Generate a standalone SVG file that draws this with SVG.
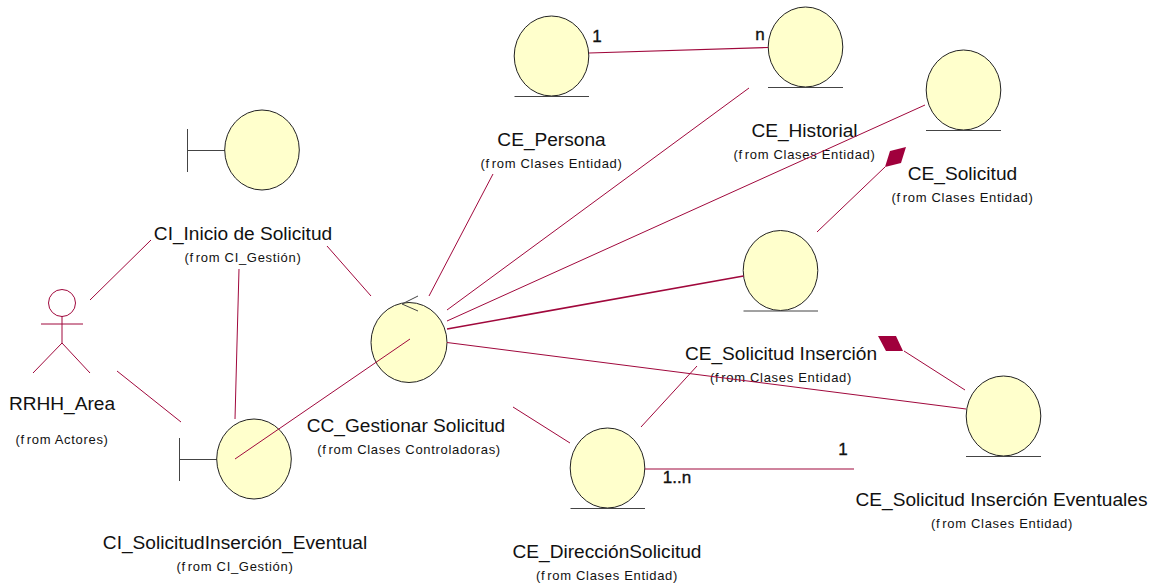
<svg xmlns="http://www.w3.org/2000/svg" width="1157" height="585" viewBox="0 0 1157 585">
<style>
text{font-family:"Liberation Sans",Arial,sans-serif;fill:#111;text-anchor:middle}
.n{font-size:19.1px}
.f{font-size:13px;letter-spacing:.68px}
.f tspan{letter-spacing:.68px}
.m{font-size:17px;stroke:#111;stroke-width:.35}
.b{fill:#ffffcc;stroke:#222;stroke-width:1}
.u{stroke:#444;stroke-width:1;fill:none}
#connectors line,#connectors polyline{stroke:#a0083c;stroke-width:1;fill:none}
.a line,.a circle{stroke:#a0083c;stroke-width:1;fill:none}
</style>
<g id="actor" class="a">
<circle cx="62" cy="303" r="13.5"/>
<line x1="41" y1="324" x2="83" y2="324"/>
<line x1="62" y1="316" x2="62" y2="343"/>
<line x1="62" y1="343" x2="33" y2="373"/>
<line x1="62" y1="343" x2="90" y2="373"/>
<text class="n" x="62" y="410">RRHH_Area</text>
<text class="f" x="62" y="444">(f<tspan dx="2">rom</tspan> Actores)</text>
</g>
<g id="ci-inicio">
<line class="u" x1="187.5" y1="129" x2="187.5" y2="172"/><line class="u" x1="187.5" y1="150.5" x2="225" y2="150.5"/>
<ellipse class="b" cx="262" cy="150" rx="37.3" ry="40"/>
<text class="n" x="243" y="240">CI_Inicio de Solicitud</text>
<text class="f" x="243" y="262">(f<tspan dx="2">rom</tspan> CI_Gestión)</text>
</g>
<g id="ci-eventual">
<line class="u" x1="179.5" y1="438" x2="179.5" y2="481"/><line class="u" x1="179.5" y1="459.5" x2="217" y2="459.5"/>
<ellipse class="b" cx="254" cy="459" rx="37.3" ry="40"/>
<text class="n" x="235" y="549">CI_SolicitudInserción_Eventual</text>
<text class="f" x="235" y="571">(f<tspan dx="2">rom</tspan> CI_Gestión)</text>
</g>
<g id="cc-gestionar">
<ellipse class="b" cx="409" cy="342.5" rx="38" ry="40"/>
<polyline class="u" points="418,296 402,304 418,311"/>
<text class="n" x="406" y="432">CC_Gestionar Solicitud</text>
<text class="f" x="409" y="454">(f<tspan dx="2">rom</tspan> Clases Controladoras)</text>
</g>
<g id="ce-persona">
<ellipse class="b" cx="551.5" cy="56" rx="37.3" ry="40"/><line class="u" x1="514.5" y1="96.5" x2="589" y2="96.5"/>
<text class="n" x="551.5" y="146">CE_Persona</text>
<text class="f" x="551.5" y="168">(f<tspan dx="2">rom</tspan> Clases Entidad)</text>
</g>
<g id="ce-historial">
<ellipse class="b" cx="805.5" cy="47" rx="37.3" ry="40"/><line class="u" x1="768" y1="87.5" x2="843" y2="87.5"/>
<text class="n" x="804.5" y="137">CE_Historial</text>
<text class="f" x="804.5" y="159">(f<tspan dx="2">rom</tspan> Clases Entidad)</text>
</g>
<g id="ce-solicitud">
<ellipse class="b" cx="963.5" cy="90" rx="37.3" ry="40"/><line class="u" x1="926" y1="130.5" x2="1001" y2="130.5"/>
<text class="n" x="962.5" y="180">CE_Solicitud</text>
<text class="f" x="962.5" y="202">(f<tspan dx="2">rom</tspan> Clases Entidad)</text>
</g>
<g id="ce-solicitud-insercion">
<ellipse class="b" cx="780.5" cy="270.5" rx="37.3" ry="40"/><line class="u" x1="743.5" y1="311" x2="818" y2="311"/>
<text class="n" x="781" y="360">CE_Solicitud Inserción</text>
<text class="f" x="781" y="382">(f<tspan dx="2">rom</tspan> Clases Entidad)</text>
</g>
<g id="ce-eventuales">
<ellipse class="b" cx="1003.5" cy="416" rx="37.3" ry="40"/><line class="u" x1="966" y1="456.5" x2="1041" y2="456.5"/>
<text class="n" x="1001.5" y="506">CE_Solicitud Inserción Eventuales</text>
<text class="f" x="1002" y="528">(f<tspan dx="2">rom</tspan> Clases Entidad)</text>
</g>
<g id="ce-direccion">
<ellipse class="b" cx="607.5" cy="468" rx="37.3" ry="40"/><line class="u" x1="570.5" y1="508.5" x2="645" y2="508.5"/>
<text class="n" x="607" y="558">CE_DirecciónSolicitud</text>
<text class="f" x="607" y="580">(f<tspan dx="2">rom</tspan> Clases Entidad)</text>
</g>
<g id="connectors">
<line x1="90" y1="300" x2="151" y2="240"/>
<line x1="327" y1="246" x2="371" y2="296"/>
<polyline points="239,269 237,343 235,419"/>
<line x1="117" y1="371" x2="181" y2="422"/>
<line x1="235" y1="459" x2="410" y2="339"/>
<line x1="429" y1="296" x2="493" y2="174"/>
<line x1="589" y1="53" x2="768" y2="47.5" style="stroke-width:1.2"/>
<line x1="447" y1="310" x2="749" y2="88"/>
<line x1="447" y1="321" x2="925" y2="105"/>
<line x1="447" y1="329" x2="743.5" y2="276" style="stroke-width:1.7"/>
<line x1="817" y1="232" x2="885" y2="167"/>
<line x1="447" y1="342.5" x2="966" y2="409"/>
<line x1="904" y1="351" x2="965" y2="390"/>
<line x1="513" y1="407" x2="570" y2="443"/>
<line x1="641" y1="427" x2="697" y2="366"/>
<line x1="645" y1="469" x2="854" y2="469" style="stroke-width:1.2"/>
<polygon points="906,147 890,151 885,167 901,163" fill="#a0003c"/>
<polygon points="878,336 896,336 903,351 886,351" fill="#a0003c"/>
</g>
<g id="multiplicities">
<text class="m" x="597" y="42">1</text>
<text class="m" x="760" y="40">n</text>
<text class="m" x="843" y="455">1</text>
<text class="m" x="677" y="483">1..n</text>
</g>
</svg>
